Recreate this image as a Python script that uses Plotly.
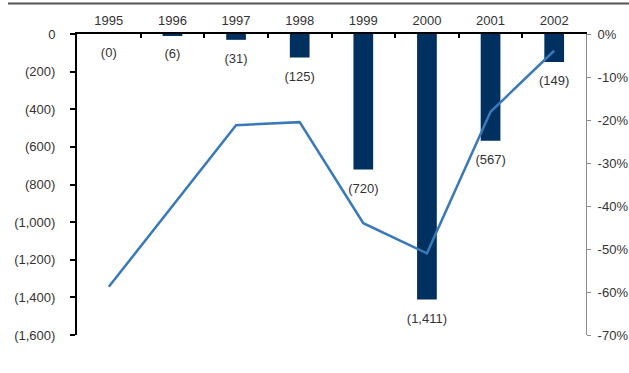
import plotly.graph_objects as go

# Annual figures (values in parentheses are losses) and ratio on the right axis
years = ["1995", "1996", "1997", "1998", "1999", "2000", "2001", "2002"]
net_income = [0, -6, -31, -125, -720, -1411, -567, -149]
margin_pct = [-58.8, -40.0, -21.2, -20.5, -44.0, -51.0, -18.1, -3.9]

left_ticks = [0, -200, -400, -600, -800, -1000, -1200, -1400, -1600]
left_labels = ["0" if v == 0 else "({:,})".format(-v) for v in left_ticks]
right_ticks = [0, -10, -20, -30, -40, -50, -60, -70]
right_labels = ["{}%".format(v) for v in right_ticks]
bar_labels = ["({:,})".format(-v) for v in net_income]

FONT = "Liberation Sans"
TEXT = "#333333"
BAR = "#00305f"
LINE = "#3a79b8"

fig = go.Figure()

fig.add_trace(go.Bar(
    x=years, y=net_income, marker=dict(color=BAR, line=dict(width=0)),
    width=0.31, yaxis="y", showlegend=False, hoverinfo="x+y",
))

# Value labels under each bar end (invisible markers set the gap)
fig.add_trace(go.Scatter(
    x=years, y=net_income, mode="markers+text", text=bar_labels,
    textposition="bottom center", yaxis="y", cliponaxis=False,
    marker=dict(size=20, opacity=0), hoverinfo="skip",
    textfont=dict(family=FONT, size=13, color=TEXT), showlegend=False,
))

fig.add_trace(go.Scatter(
    x=years, y=margin_pct, mode="lines", yaxis="y2",
    line=dict(color=LINE, width=2.5), showlegend=False,
))

fig.update_layout(
    width=629, height=373,
    margin=dict(l=77, r=43, t=34, b=38, autoexpand=False),
    paper_bgcolor="white", plot_bgcolor="white",
    font=dict(family=FONT, size=13, color=TEXT),
    xaxis=dict(
        type="category", side="top", range=[-0.5, 7.5], automargin=False,
        showline=True, linecolor="black", linewidth=2,
        ticks="inside", tickson="boundaries", ticklen=4, tickcolor="black", tickwidth=1.5,
        showgrid=False, zeroline=False, ticklabelstandoff=2,
        tickfont=dict(family=FONT, size=13, color=TEXT),
    ),
    yaxis=dict(
        range=[-1600, 0], tickmode="array", tickvals=left_ticks, ticktext=left_labels,
        automargin=False,
        showline=True, linecolor="black", linewidth=2,
        ticks="outside", ticklen=5, tickcolor="black", tickwidth=1.5,
        showgrid=False, zeroline=False, ticklabelstandoff=12,
        tickfont=dict(family=FONT, size=13, color=TEXT),
    ),
    yaxis2=dict(
        overlaying="y", side="right", range=[-70, 0], automargin=False,
        tickmode="array", tickvals=right_ticks, ticktext=right_labels,
        showline=True, linecolor="#8c8c8c", linewidth=1,
        ticks="outside", ticklen=4, tickcolor="#8c8c8c", tickwidth=1,
        showgrid=False, zeroline=False, ticklabelstandoff=4,
        tickfont=dict(family=FONT, size=13, color=TEXT),
    ),
    shapes=[dict(
        type="line", xref="paper", yref="paper",
        x0=-69 / 509, x1=1 + 43 / 509, y0=1 + 30.5 / 301, y1=1 + 30.5 / 301,
        line=dict(color="#555555", width=2),
    )],
)

fig.write_html("out.html")
